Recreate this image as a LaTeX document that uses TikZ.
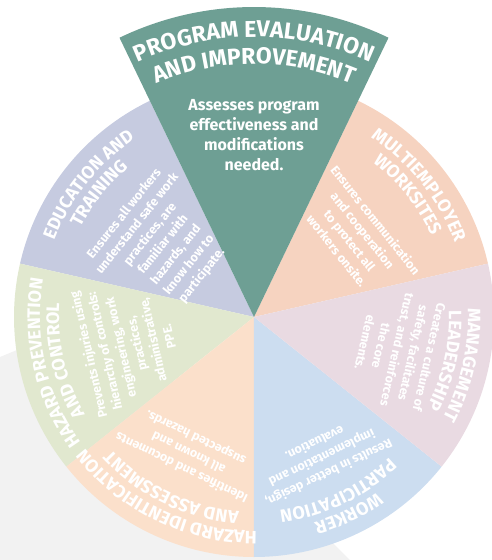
\documentclass[tikz,border=0pt]{standalone}
\usepackage{fontspec}
\setmainfont{Fira Sans}
\usetikzlibrary{decorations.text}
\definecolor{cTop}{HTML}{6E9F94}
\definecolor{cMulti}{HTML}{F6D3C0}
\definecolor{cMgmt}{HTML}{E9DAE2}
\definecolor{cWork}{HTML}{CCDDF0}
\definecolor{cHazId}{HTML}{FBE0CB}
\definecolor{cHazPr}{HTML}{E1E8CF}
\definecolor{cEdu}{HTML}{C6CBE0}
\definecolor{cBack}{HTML}{F2F2F2}
\newcommand\tfTop{\bfseries\fontsize{23}{27}\selectfont}
\newcommand\tfSec{\bfseries\fontsize{18}{21}\selectfont}
\newcommand\arcline[4]{%
  \pgfmathsetmacro\aS{#2+45}\pgfmathsetmacro\aE{#2-45}%
  \path[decorate,decoration={text along path,text align=center,text color=white,text={|#3|#4}}]
    (\aS:#1pt) arc[start angle=\aS,end angle=\aE,radius=#1pt];
}
\newcommand\sector[4]{% color, start, end, radius
  \fill[#1] (0,0) -- (#2:#4pt) arc[start angle=#2,end angle=#3,radius=#4pt] -- cycle;
}
\tikzset{
  desc/.style={text=white,font=\bfseries\fontsize{12.5}{16.5}\selectfont,align=center,inner sep=0pt},
  desctop/.style={text=white,font=\bfseries\fontsize{16}{20}\selectfont,align=center,inner sep=0pt}
}
\begin{document}
\begin{tikzpicture}[x=1pt,y=1pt]
\useasboundingbox (-254,-243) rectangle (238,317);
% background grey band
\fill[cBack] (-254,-40) -- (-150,3) -- (96,-243) -- (-254,-243) -- cycle;
% sectors
\sector{cMulti}{12.857}{64.286}{240}
\sector{cEdu}{115.714}{167.143}{240}
\sector{cHazPr}{167.143}{218.571}{240}
\sector{cHazId}{218.571}{270}{240}
\sector{cWork}{270}{321.429}{240}
\sector{cMgmt}{321.429}{372.857}{240}
\sector{cTop}{64.286}{115.714}{310}
% titles
\arcline{280}{90}{\tfTop}{PROGRAM EVALUATION}
\arcline{253}{90}{\tfTop}{AND IMPROVEMENT}
\arcline{214}{38.571}{\tfSec}{MULTIEMPLOYER}
\arcline{195}{38.571}{\tfSec}{WORKSITES}
\arcline{214}{-12.857}{\tfSec}{MANAGEMENT}
\arcline{195}{-12.857}{\tfSec}{LEADERSHIP}
\arcline{214}{-64.286}{\tfSec}{WORKER}
\arcline{195}{-64.286}{\tfSec}{PARTICIPATION}
\arcline{214}{-115.714}{\tfSec}{HAZARD IDENTIFICATION}
\arcline{195}{-115.714}{\tfSec}{AND ASSESSMENT}
\arcline{214}{192.857}{\tfSec}{HAZARD PREVENTION}
\arcline{195}{192.857}{\tfSec}{AND CONTROL}
\arcline{214}{141.429}{\tfSec}{EDUCATION AND}
\arcline{195}{141.429}{\tfSec}{TRAINING}
% descriptions
\node[desctop] (dTop) at (90:182pt) {Assesses program\\effectiveness and\\modifications\\needed.};
\node[desc,rotate=-51.429] (dMulti) at (38.571:131pt) {Ensures communication\\and cooperation\\to protect all\\workers onsite.};
\node[desc,rotate=-102.857] (dMgmt) at (-12.857:147pt) {Creates a culture of\\safety, facilitates\\trust, and reinforces\\the core\\elements.};
\node[desc,rotate=205.714] (dWork) at (-64.286:157pt) {Results in better design,\\implementation and\\evaluation.};
\node[desc,rotate=154.286] (dHazId) at (-115.714:150pt) {Identifies and documents\\all known and\\suspected hazards.};
\node[desc,rotate=102.857] (dHazPr) at (192.857:129pt) {Prevents injuries using\\hierarchy of controls:\\engineering, work\\practices,\\administrative,\\PPE.};
\node[desc,rotate=51.429] (dEdu) at (141.429:116pt) {Ensures all workers\\understand safe work\\practices, are\\familiar with\\hazards, and\\know how to\\participate.};
\end{tikzpicture}
\end{document}
